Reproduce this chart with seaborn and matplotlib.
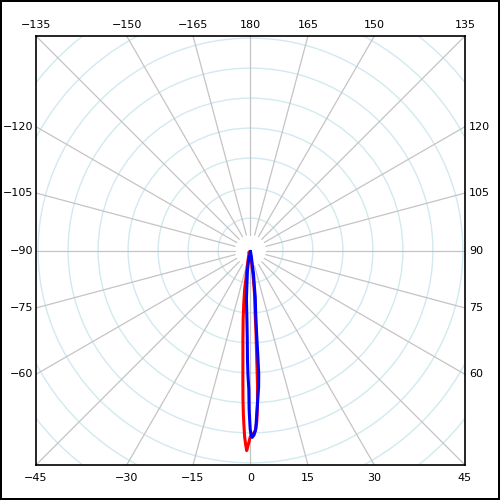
import numpy as np
import pandas as pd
import seaborn as sns
import matplotlib
matplotlib.use("Agg")
import matplotlib.pyplot as plt
from matplotlib.patches import Circle

# ============================
#  data (polar: angle in degrees from the bottom, radius in ring units)
# ============================

red_theta = [-40, -13.9, -10.5, -9.2, -8.6, -7.2, -6.1, -4.9, -4.0, -3.4, -2.9, -2.5,
             -2.1, -1.8, -1.4, -1.1, -0.6, -0.1, 0.5, 1.5, 2.1, 2.6, 3.0, 3.3, 3.8,
             4.2, 5.3, 5.8, 5.1, 0.0]
red_r = [0.07, 0.36, 0.70, 0.96, 1.30, 1.80, 2.30, 2.96, 3.63, 4.29, 4.96, 5.46,
         5.89, 6.22, 6.49, 6.67, 6.45, 6.22, 6.15, 6.02, 5.72, 5.12, 4.46, 3.62, 2.79,
         2.12, 1.46, 0.89, 0.45, 0.15]

blue_theta = [0.0, -10.1, -10.8, -8.6, -6.1, -4.8, -3.0, -2.1, -1.6, -1.2, -0.7, -0.5,
              -0.3, -0.1, 0.2, 0.5, 1.1, 1.7, 2.2, 2.8, 3.4, 3.8, 4.0, 4.2, 4.7,
              5.8, 6.3, 7.3, 7.2, 7.9]
blue_r = [0.03, 0.15, 0.36, 0.69, 1.12, 1.62, 2.29, 2.95, 3.62, 4.12, 4.62, 5.28,
          5.62, 5.95, 6.18, 6.23, 6.15, 5.95, 5.45, 4.96, 4.56, 4.13, 3.46, 2.79, 2.12,
          1.56, 1.12, 0.79, 0.45, 0.22]

spoke_angles = np.arange(-165, 181, 15)
ring_radii = np.arange(1, 11) + 0.08

HALF = 7.15  # half width of the square frame, ring units


def to_xy(theta, r):
    t = np.radians(np.asarray(theta, dtype=float))
    r = np.asarray(r, dtype=float)
    t = np.append(t, t[0])
    r = np.append(r, r[0])
    return pd.DataFrame({'x': r * np.sin(t), 'y': -r * np.cos(t)})


sns.set_style("white")
fig = plt.figure(figsize=(5, 5), dpi=100, linewidth=1.5, edgecolor='black')
ax = fig.add_axes([36 / 500, 35 / 500, 429 / 500, 429 / 500])
ax.set_xlim(-HALF, HALF)
ax.set_ylim(-HALF, HALF)
ax.set_aspect('equal')
ax.set_xticks([])
ax.set_yticks([])
for s in ax.spines.values():
    s.set_color('black')
    s.set_linewidth(1.2)

# grid: rings and spokes
for rr in ring_radii:
    ax.add_patch(Circle((0, 0), rr, fill=False, edgecolor='#d2e9f0', linewidth=1.0, zorder=1))
for a in spoke_angles:
    t = np.radians(a)
    ax.plot([0.53 * np.sin(t), 12 * np.sin(t)], [-0.53 * np.cos(t), -12 * np.cos(t)],
            color='#c4c4c4', linewidth=0.9, zorder=1)

    # label where the spoke meets the frame
    s, c = np.sin(t), np.cos(t)
    d = HALF / max(abs(s), abs(c))
    px, py = d * s, -d * c
    if abs(c) >= abs(s) - 1e-9:
        off = (0, 11) if py > 0 else (0, -13)
        ha = 'center'
    elif px < 0:
        off, ha = (-3, 0), 'right'
    else:
        off, ha = (4, 0), 'left'
    lab = str(int(a)).replace('-', '\u2212')
    ax.annotate(lab, (px, py), xytext=off, textcoords='offset pixels',
                ha=ha, va='center', fontsize=8, color='black', annotation_clip=False)

# the two lobes
red_df = to_xy(red_theta, red_r)
blue_df = to_xy(blue_theta, blue_r)
sns.lineplot(data=red_df, x='x', y='y', sort=False, estimator=None, color='#ff0000',
             linewidth=2.2, ax=ax, zorder=3)
sns.lineplot(data=blue_df, x='x', y='y', sort=False, estimator=None, color='#0000ff',
             linewidth=2.2, ax=ax, zorder=4)
ax.set_xlabel('')
ax.set_ylabel('')

fig.savefig('out.png', dpi=100, edgecolor=fig.get_edgecolor())
